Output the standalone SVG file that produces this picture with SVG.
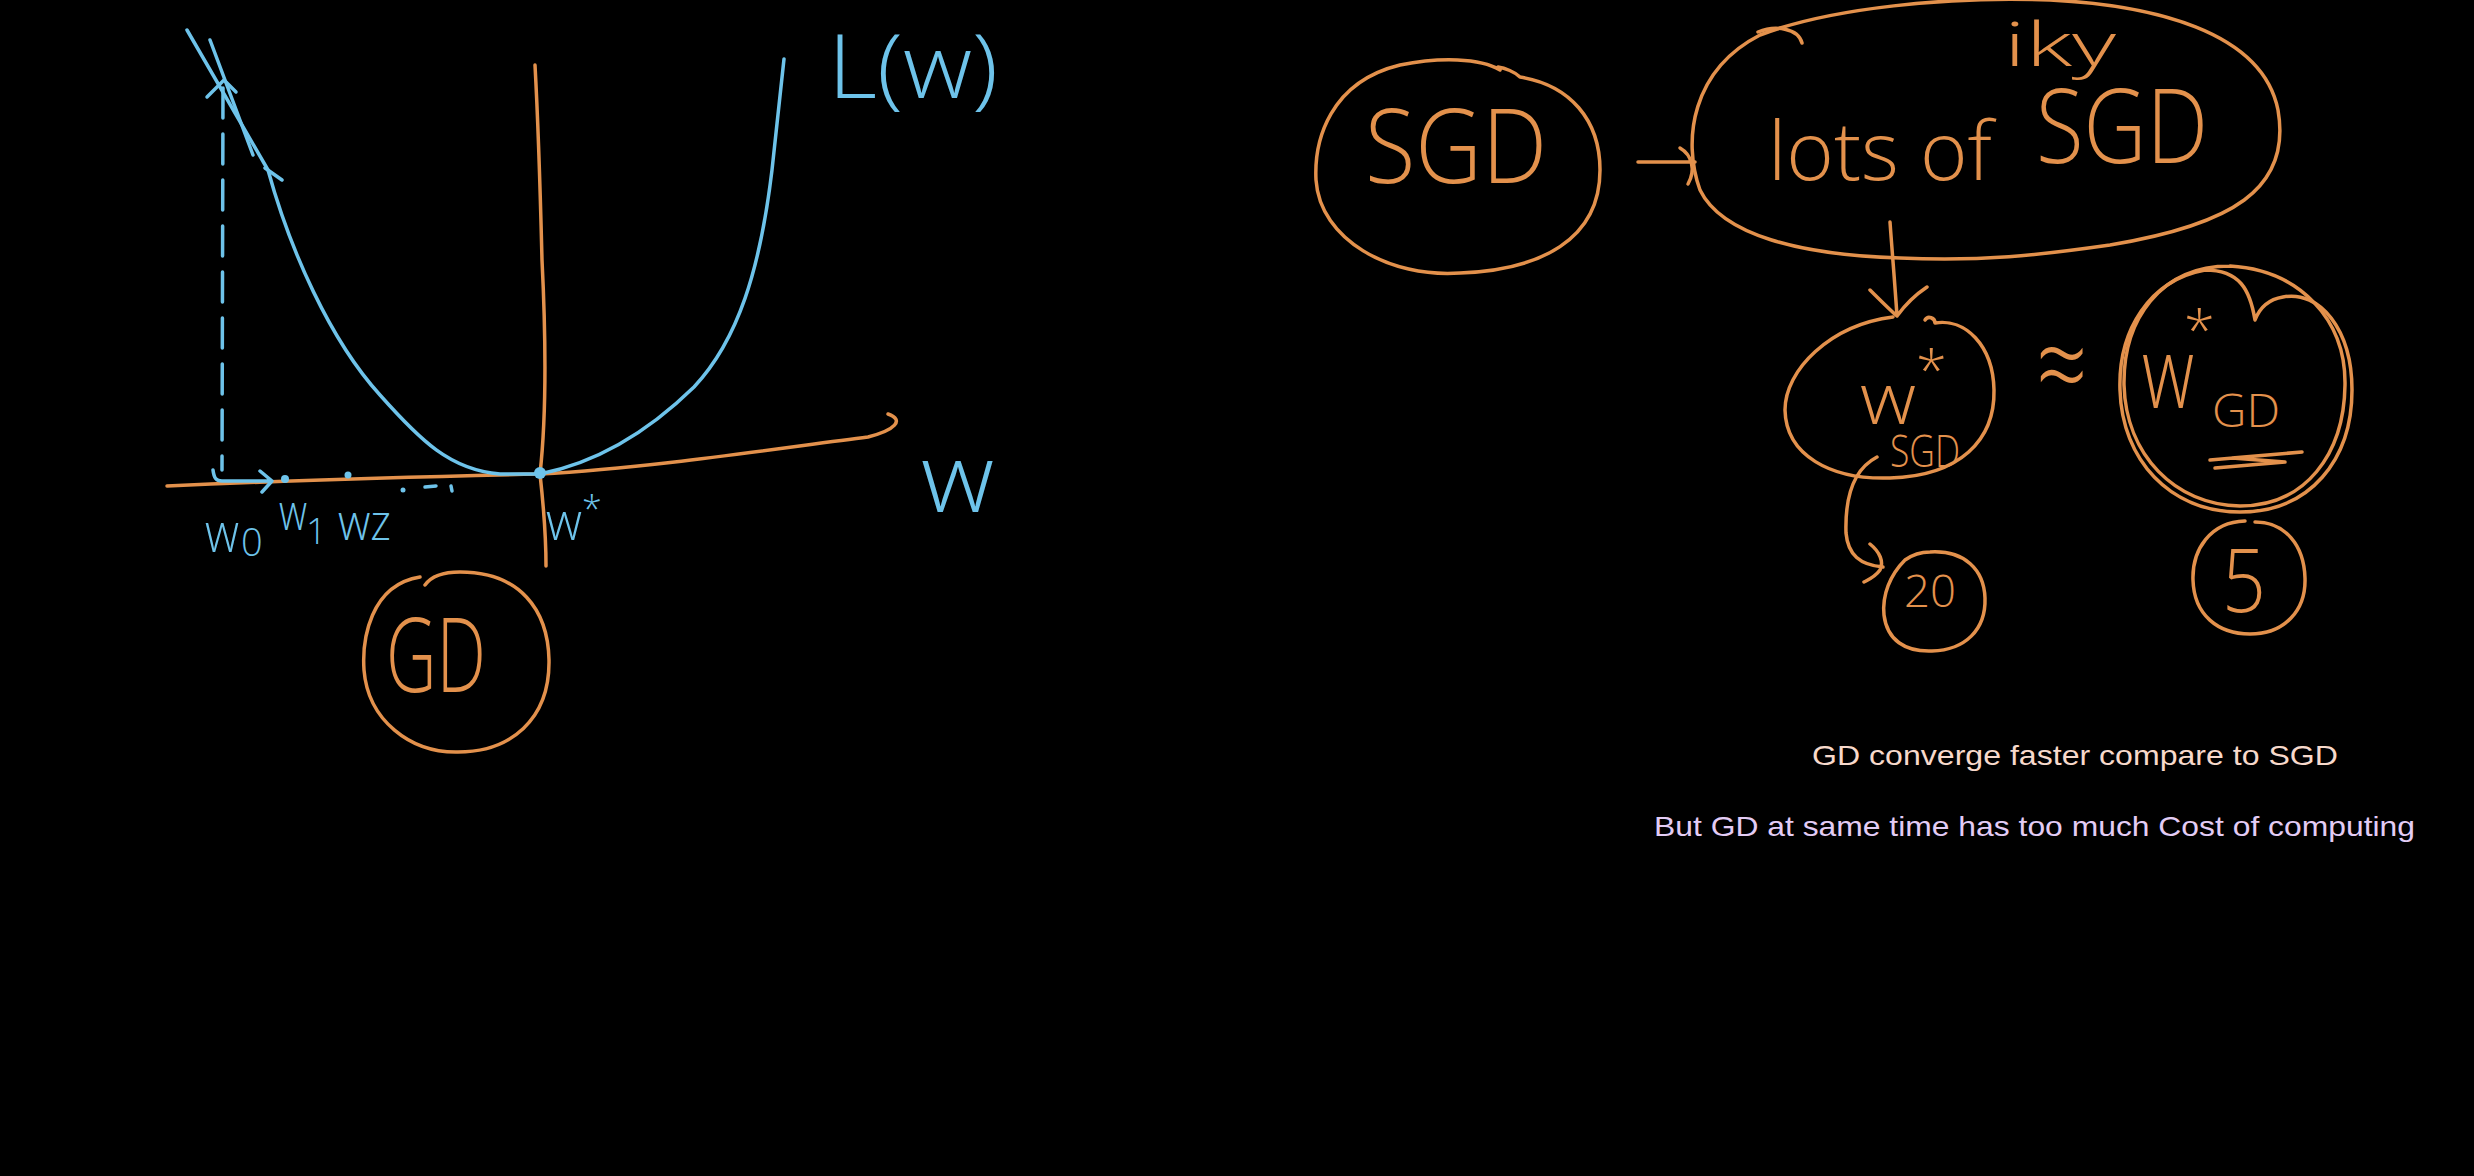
<svg xmlns="http://www.w3.org/2000/svg" width="2474" height="1176" viewBox="0 0 2474 1176">
<style>
.or{fill:none;stroke:#e3914c;stroke-width:3.5;stroke-linecap:round;stroke-linejoin:round}
.bl{fill:none;stroke:#6ec3ea;stroke-width:3.5;stroke-linecap:round;stroke-linejoin:round}
.ht{font-family:'Open Sans','Roboto','Liberation Sans',sans-serif;font-weight:300}
.ot{fill:#e3914c}
.bt{fill:#6ec3ea}
.note{font-family:'Liberation Sans','DejaVu Sans',sans-serif;font-size:28px}
</style>
<rect width="2474" height="1176" fill="#000"/>

<g id="graph">
  <path class="or" d="M167,486 C300,480 450,476 540,474 C650,468 780,448 868,437 C895,430 905,420 888,414"/>
  <path class="or" d="M535,65 C538,120 540,180 542,260 C546,340 546,420 540,474 C544,510 546,540 546,566"/>
  <path class="bl" d="M187,30 L268,170 C290,250 330,340 380,395 C420,440 450,470 500,474 L540,474 C600,462 650,430 694,387 C738,340 760,270 772,170 L784,59"/>
  <path class="bl" d="M210,40 L253,155 M265,168 L282,180"/>
  <path class="bl" d="M223,88 L222,470" stroke-dasharray="30 16"/>
  <path class="bl" d="M207,97 L224,80 L236,92"/>
  <path class="bl" d="M213,470 C214,478 216,481 222,481 L272,481 M260,471 L272,481 L262,492"/>
  <circle cx="285" cy="479" r="4" fill="#6ec3ea"/>
  <circle cx="348" cy="475" r="3.5" fill="#6ec3ea"/>
  <circle cx="403" cy="490" r="2.5" fill="#6ec3ea"/>
  <path class="bl" d="M425,487 L436,486 M451,486 L452,491"/>
  <circle cx="540" cy="473" r="6" fill="#6ec3ea"/>
  <text class="ht bt" x="205" y="552" font-size="56" textLength="34" lengthAdjust="spacingAndGlyphs">w</text>
  <text class="ht bt" x="241" y="556" font-size="38">0</text>
  <text class="ht bt" x="279" y="530" font-size="50" textLength="28" lengthAdjust="spacingAndGlyphs">w</text>
  <text class="ht bt" x="306" y="544" font-size="36">1</text>
  <text class="ht bt" x="338" y="540" font-size="50" textLength="53" lengthAdjust="spacingAndGlyphs">wz</text>
  <text class="ht bt" x="546" y="540" font-size="54" textLength="36" lengthAdjust="spacingAndGlyphs">w</text>
  <text class="ht bt" x="582" y="522" font-size="36">*</text>
  <text class="ht bt" x="921" y="512" font-size="96" textLength="73" lengthAdjust="spacingAndGlyphs">w</text>
  <text class="ht bt" x="828" y="98" font-size="88" textLength="170" lengthAdjust="spacingAndGlyphs">L(w)</text>
</g>

<g id="gd">
  <path class="or" d="M420,577 C370,585 362,640 364,670 C368,720 410,753 458,752 C510,752 550,720 549,660 C548,610 520,572 460,572 C440,572 430,578 425,585"/>
  <text class="ht ot" x="386" y="692" font-size="104" textLength="100" lengthAdjust="spacingAndGlyphs">GD</text>
</g>

<g id="sgd">
  <path class="or" d="M1500,70 C1480,58 1440,57 1400,65 C1330,82 1314,140 1316,180 C1320,240 1390,278 1460,273 C1540,270 1600,240 1600,170 C1600,120 1570,85 1520,77 C1515,72 1505,68 1498,67"/>
  <text class="ht ot" x="1365" y="183" font-size="104" textLength="182" lengthAdjust="spacingAndGlyphs">SGD</text>
</g>

<g id="lots">
  <path class="or" d="M1700,190 C1682,140 1692,70 1760,35 C1830,8 1950,-4 2050,0 C2150,5 2262,30 2278,110 C2292,190 2230,225 2110,245 C2040,255 1980,262 1900,258 C1800,255 1722,235 1700,190 Z"/>
  <path class="or" d="M1758,32 C1775,25 1798,28 1802,43"/>
  <text class="ht ot" x="1768" y="180" font-size="82" textLength="224" lengthAdjust="spacingAndGlyphs">lots of</text>
  <text class="ht ot" x="2036" y="163" font-size="104" textLength="172" lengthAdjust="spacingAndGlyphs">SGD</text>
  <text class="ht ot" x="2004" y="66" font-size="60" textLength="112" lengthAdjust="spacingAndGlyphs">iky</text>
</g>

<g id="wsgd">
  <path class="or" d="M1893,317 C1830,325 1785,370 1785,410 C1786,455 1830,480 1890,478 C1960,476 1995,440 1994,390 C1993,345 1965,318 1935,323 C1935,318 1928,315 1925,320"/>
  <text class="ht ot" x="1860" y="424" font-size="72" textLength="56" lengthAdjust="spacingAndGlyphs">w</text>
  <text class="ht ot" x="1916" y="390" font-size="56">*</text>
  <text class="ht ot" x="1890" y="467" font-size="44" textLength="70" lengthAdjust="spacingAndGlyphs">SGD</text>
</g>

<g id="approx">
  <text class="ht ot" x="2036" y="400" font-size="90" transform="translate(0,-150) scale(1,1.4)">≈</text>
</g>

<g id="wgd">
  <path class="or" d="M2205,270 C2150,280 2118,330 2120,390 C2122,460 2170,512 2240,512 C2310,512 2352,460 2352,390 C2352,330 2320,290 2283,297 C2265,300 2258,312 2255,320 C2250,290 2240,270 2205,270"/>
  <path class="or" d="M2230,266 C2160,266 2123,320 2124,385 C2126,455 2175,505 2240,506 C2305,506 2344,455 2345,385 C2346,320 2300,270 2230,266"/>
  <text class="ht ot" x="2142" y="408" font-size="100" textLength="52" lengthAdjust="spacingAndGlyphs">w</text>
  <text class="ht ot" x="2184" y="350" font-size="56">*</text>
  <text class="ht ot" x="2212" y="427" font-size="46" textLength="68" lengthAdjust="spacingAndGlyphs">GD</text>
  <path class="or" d="M2210,460 L2302,452 L2232,458 L2285,462 L2215,468"/>
</g>

<g id="n20">
  <path class="or" d="M1905,560 C1890,575 1882,595 1884,615 C1887,640 1905,652 1932,651 C1965,650 1986,630 1985,598 C1984,570 1965,550 1930,552 C1920,552 1912,555 1905,560"/>
  <text class="ht ot" x="1904" y="607" font-size="44" textLength="52" lengthAdjust="spacingAndGlyphs">20</text>
</g>

<g id="n5">
  <path class="or" d="M2245,521 C2210,522 2192,550 2193,580 C2194,615 2218,634 2250,634 C2285,634 2306,610 2305,578 C2304,545 2285,522 2255,522"/>
  <text class="ht ot" x="2222" y="612" font-size="88" textLength="44" lengthAdjust="spacingAndGlyphs">5</text>
</g>

<g id="connectors">
  <path class="or" d="M1638,162 L1695,162 M1680,148 C1692,155 1696,170 1688,184"/>
  <path class="or" d="M1890,222 C1892,250 1895,285 1897,316 M1870,290 C1880,300 1890,310 1897,316 C1905,305 1915,295 1927,287"/>
  <path class="or" d="M1877,457 C1852,470 1845,500 1846,533 C1848,555 1860,565 1883,567 M1870,544 C1880,552 1884,562 1880,570 C1875,577 1868,580 1864,582"/>
</g>

<g id="notes">
  <text class="note" x="1812" y="765" fill="#f7d9cb" textLength="526" lengthAdjust="spacingAndGlyphs">GD converge faster compare to SGD</text>
  <text class="note" x="1654" y="836" fill="#e3ccf5" textLength="761" lengthAdjust="spacingAndGlyphs">But GD at same time has too much Cost of computing</text>
</g>
</svg>
